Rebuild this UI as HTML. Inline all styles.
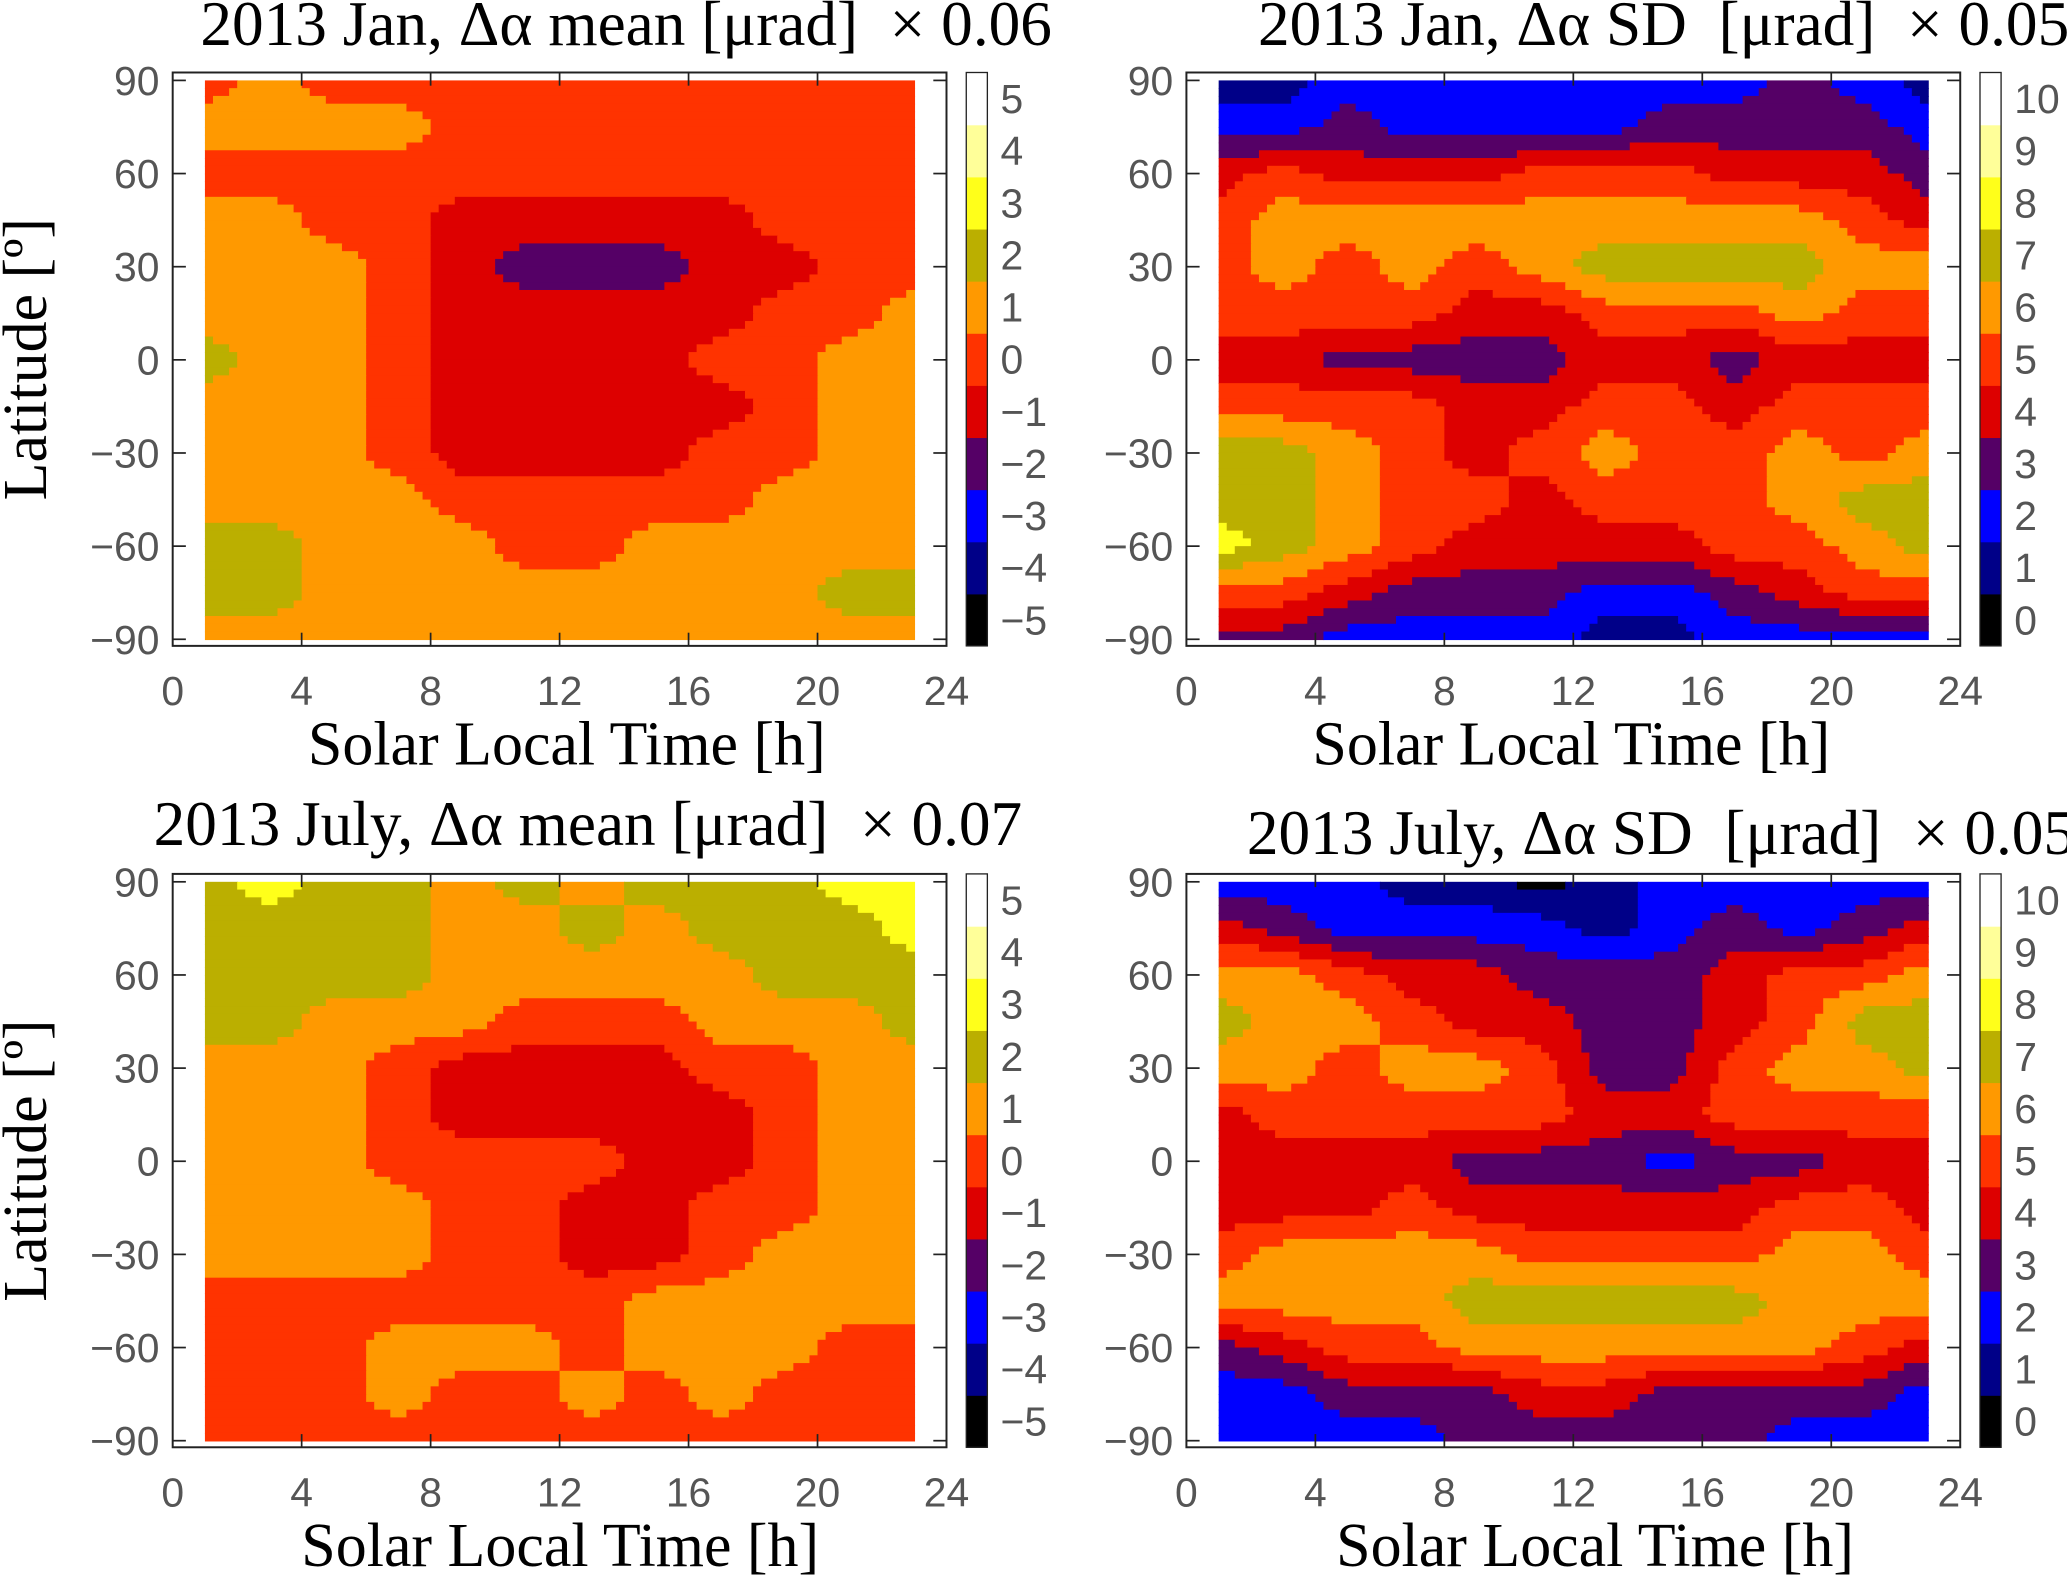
<!DOCTYPE html>
<html><head><meta charset="utf-8">
<style>
html,body{margin:0;padding:0;background:#fff;}
svg{display:block;}
.tt{font-family:"Liberation Serif",serif;font-size:48px;fill:#000;}
.xl{font-family:"Liberation Serif",serif;font-size:47px;fill:#000;}
.tk{font-family:"Liberation Sans",sans-serif;font-size:31px;fill:#555;}
</style></head>
<body>
<svg id="fig" width="2067" height="1587" viewBox="0 0 1568 1204" preserveAspectRatio="none" xmlns="http://www.w3.org/2000/svg"></svg>
<script>
// grid: hours 1..23 step 2 (12 cols), lat 90..-90 step 15 (13 rows)
const hours = [1,3,5,7,9,11,13,15,17,19,21,23];
const lats = [90,75,60,45,30,15,0,-15,-30,-45,-60,-75,-90];
const janMean = [
[0,1,0,0,0,0,0,0,0,0,0,0],
[1,1,1,1,0,0,0,0,0,0,0,0],
[0,0,0,0,0,0,0,0,0,0,0,0],
[1,1,0,0,-1,-1,-1,-1,-1,0,0,0],
[1,1,1,0,-1,-2,-2,-2,-1,-1,0,0],
[1,1,1,0,-1,-1,-1,-1,-1,0,0,1],
[2,1,1,0,-1,-1,-1,-1,0,0,1,1],
[1,1,1,0,-1,-1,-1,-1,-1,0,1,1],
[1,1,1,0,-1,-1,-1,-1,0,0,1,1],
[1,1,1,1,0,0,0,0,0,1,1,1],
[2,2,1,1,1,0,0,1,1,1,1,1],
[2,2,1,1,1,1,1,1,1,1,2,2],
[1,1,1,1,1,1,1,1,1,1,1,1]];
const janSD = [
[1,1,2,2,2,2,2,2,2,3,2,1],
[2,2,3,2,2,2,2,3,3,3,3,2],
[4,5,4,4,4,5,5,5,4,4,4,3],
[5,6,6,6,6,6,6,6,6,6,5,4],
[5,6,5,6,5,6,7,7,7,7,6,6],
[5,5,5,5,4,4,5,5,5,6,5,5],
[4,4,3,3,3,3,4,4,3,4,4,4],
[5,5,5,5,4,4,5,5,4,5,5,5],
[7,7,6,5,4,5,6,5,5,6,5,6],
[7,7,6,5,5,4,5,5,5,6,7,7],
[8,7,6,5,4,4,4,4,5,5,6,7],
[5,5,4,3,3,3,2,2,3,4,5,5],
[3,3,2,2,2,2,1,1,2,2,2,2]];
const julMean = [
[2,3,2,2,1,2,1,2,2,2,3,3],
[2,2,2,2,1,1,2,1,2,2,2,3],
[2,2,2,2,1,1,1,1,1,2,2,2],
[2,2,1,1,1,0,0,0,1,1,1,2],
[1,1,1,0,-1,-1,-1,-1,0,0,1,1],
[1,1,1,0,-1,-1,-1,-1,-1,0,1,1],
[1,1,1,0,0,0,0,-1,-1,0,1,1],
[1,1,1,1,0,0,-1,-1,0,0,1,1],
[1,1,1,1,0,0,-1,-1,0,1,1,1],
[0,0,0,0,0,0,0,1,1,1,1,1],
[0,0,0,1,1,1,0,1,1,1,0,0],
[0,0,0,1,0,0,1,0,1,0,0,0],
[0,0,0,0,0,0,0,0,0,0,0,0]];
const julSD = [
[2,2,2,1,1,0,1,2,2,2,2,2],
[4,3,2,2,2,2,1,2,3,2,3,4],
[6,6,5,4,4,3,3,3,4,5,5,6],
[7,6,6,5,4,4,3,3,4,5,7,7],
[6,6,5,6,6,5,3,3,5,6,6,7],
[4,5,5,5,5,5,4,4,5,5,5,5],
[4,4,4,4,3,3,3,2,3,3,4,4],
[4,4,4,5,4,4,4,4,4,5,5,4],
[5,6,6,6,6,5,5,5,5,6,6,5],
[6,6,6,6,7,7,7,7,7,6,6,6],
[3,4,5,5,6,6,6,6,6,6,5,4],
[2,2,3,3,3,4,4,3,3,3,3,2],
[2,2,2,2,3,3,3,3,3,2,2,2]];
const xTicks = [0,4,8,12,16,20,24];
const yTicks = [90,60,30,0,-30,-60,-90];
const meanLevels = [-5,-4,-3,-2,-1,0,1,2,3,4,5];
const sdLevels = [0,1,2,3,4,5,6,7,8,9,10];
const titles = ["2013 Jan, \u0394\u03b1 mean [\u03bcrad]  \u00d7 0.06","2013 Jan, \u0394\u03b1 SD  [\u03bcrad]  \u00d7 0.05","2013 July, \u0394\u03b1 mean [\u03bcrad]  \u00d7 0.07","2013 July, \u0394\u03b1 SD  [\u03bcrad]  \u00d7 0.05"];
const palette = ["#000000","#000088","#0000ff","#550066","#dd0000","#ff3300","#ff9900","#bbaf00","#ffff1a","#ffff99","#ffffff"];

const NS="http://www.w3.org/2000/svg";
const svg=document.getElementById('fig');
function mk(tag,attrs,parent){const e=document.createElementNS(NS,tag);for(const k in attrs)e.setAttribute(k,attrs[k]);(parent||svg).appendChild(e);return e;}
function txt(s,x,y,cls,anchor,parent){const t=mk('text',{x:x,y:y,class:cls,'text-anchor':anchor||'middle'},parent);t.textContent=s;t.setAttribute('xml:space','preserve');t.style.whiteSpace='pre';return t;}

function panel(cfg){
  const g=mk('g',{});
  
  
  const bx0=cfg.x0,bx1=cfg.x0+587,by0=cfg.y0,by1=cfg.y0+435;
  const X=h=>bx0+(bx1-bx0)*h/24;
  const yTop=by0+6,yBot=by1-5;
  const Y=l=>yTop+(yBot-yTop)*(90-l)/180;
  const data=cfg.data, levels=cfg.levels, base=levels[0];
  const hm=mk('g',{},g);
  
  
  const dh=0.25, dl=2.5;
  function val(h,l){
    let fi=(h-hours[0])/(hours[1]-hours[0]); let fj=(lats[0]-l)/(lats[0]-lats[1]);
    fi=Math.max(0,Math.min(hours.length-1,fi)); fj=Math.max(0,Math.min(lats.length-1,fj));
    const i0=Math.min(Math.floor(fi),hours.length-2), j0=Math.min(Math.floor(fj),lats.length-2);
    const a=fi-i0,b=fj-j0;
    return data[j0][i0]*(1-a)*(1-b)+data[j0][i0+1]*a*(1-b)+data[j0+1][i0]*(1-a)*b+data[j0+1][i0+1]*a*b;
  }
  for(let l=90;l>-90;l-=dl){
    const lc=l-dl/2;
    let start=1,cur=null;
    for(let h=1;h<=23+1e-9;h+=dh){
      const hc=Math.min(h+dh/2,23);
      let k=h>=23-1e-9?null:Math.round(val(hc,lc))-base;
      if(k!==null)k=Math.max(0,Math.min(10,k));
      if(k!==cur){
        if(cur!==null){
          const r=mk('rect',{x:X(start),y:Y(l),width:X(h)-X(start)+0.6,height:Y(l-dl)-Y(l)+0.6,fill:palette[cur]},hm);
          
          
        }
        start=h;cur=k;
      }
    }
  }
  const box=mk('rect',{x:bx0,y:by0,width:bx1-bx0,height:by1-by0,fill:'none',stroke:'#222','stroke-width':1.5},g);
  
  
  xTicks.forEach(t=>{
    if(t>0&&t<24){mk('line',{x1:X(t),x2:X(t),y1:by0,y2:by0+10,stroke:'#222','stroke-width':1.3},g);mk('line',{x1:X(t),x2:X(t),y1:by1,y2:by1-10,stroke:'#222','stroke-width':1.3},g);}
    const tl=txt(String(t),X(t),by1+45,'tk','middle',g);
    
    
  });
  yTicks.forEach(t=>{
    mk('line',{x1:bx0,x2:bx0+10,y1:Y(t),y2:Y(t),stroke:'#222','stroke-width':1.3},g);
    mk('line',{x1:bx1,x2:bx1-10,y1:Y(t),y2:Y(t),stroke:'#222','stroke-width':1.3},g);
    const tl=txt(t<0?'\u2212'+(-t):String(t),bx0-10,Y(t)+11,'tk','end',g);
    
    
  });
  const cb=mk('g',{},g);
  
  
  const cx=bx1+15,bh=(by1-by0)/levels.length;
  levels.forEach((lv,i)=>{
    const yy=by1-(i+1)*bh;
    const r=mk('rect',{x:cx,y:yy,width:16,height:bh+0.5,fill:palette[i]},cb);
    
    
    const tl=txt(lv<0?'\u2212'+(-lv):String(lv),cx+26,yy+bh/2+11,'tk','start',cb);
    
    
  });
  mk('rect',{x:cx,y:by0,width:16,height:by1-by0,fill:'none',stroke:'#222','stroke-width':1},cb);
  const ti=txt(cfg.title,cfg.tx,cfg.ty,'tt','middle',g);
  
  
  const xl=txt('Solar Local Time [h]',cfg.xlx,by1+90,'xl','middle',g);
  
  
  if(cfg.ylab){
    const yl=txt('Latitude [\u00ba]',0,0,'xl','middle',g);
    yl.setAttribute('transform','translate(35,'+((by0+by1)/2)+') rotate(-90)');
    
    
  }
}
panel({name:'panel-jan-mean',x0:131,y0:55,data:janMean,levels:meanLevels,title:titles[0],tx:475,ty:34,xlx:430,ylab:true});
panel({name:'panel-jan-sd',x0:900,y0:55,data:janSD,levels:sdLevels,title:titles[1],tx:1262,ty:34,xlx:1192,ylab:false});
panel({name:'panel-jul-mean',x0:131,y0:663,data:julMean,levels:meanLevels,title:titles[2],tx:446,ty:641,xlx:425,ylab:true});
panel({name:'panel-jul-sd',x0:900,y0:663,data:julSD,levels:sdLevels,title:titles[3],tx:1260,ty:648,xlx:1210,ylab:false});
</script>
</body></html>
